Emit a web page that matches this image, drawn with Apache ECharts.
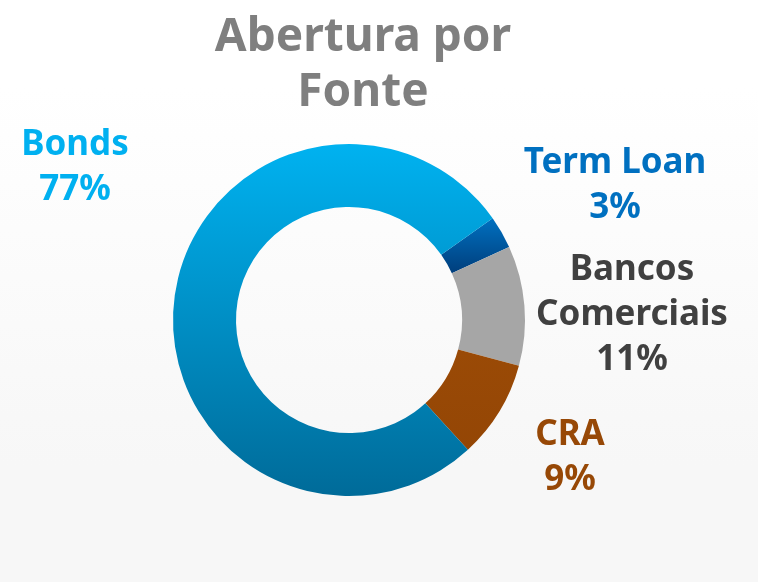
<!DOCTYPE html>
<html>
<head>
<meta charset="utf-8">
<script src="https://cdn.jsdelivr.net/npm/echarts@6/dist/echarts.min.js"></script>
<style>
  html, body { margin: 0; padding: 0; }
  #main { width: 758px; height: 582px; }
</style>
</head>
<body>
<div id="main"></div>
<script>
// data, clockwise from the top-right
var categories = ['Term Loan', 'Bancos Comerciais', 'CRA', 'Bonds']
var shares = [3, 11, 9, 77]
var labelNames = ['Term Loan', 'Bancos\nComerciais', 'CRA', 'Bonds']

// styles
var fillTop = ['#0070C0', '#A6A6A6', '#9A4A06', '#00B2F0']
var fillBottom = ['#003E7C', '#A6A6A6', '#944605', '#006B99']
var textColors = ['#0070C0', '#404040', '#974806', '#00B0F0']
var labelPos = [[615, 186], [632, 315], [570, 458], [75, 168]]

var chart = echarts.init(document.getElementById('main'))

var pieData = categories.map(function (name, i) {
    return {
        name: name,
        value: shares[i],
        itemStyle: {
            color: new echarts.graphic.LinearGradient(0, 0, 0, 1, [
                { offset: 0, color: fillTop[i] },
                { offset: 1, color: fillBottom[i] }
            ])
        },
        label: { color: textColors[i] }
    }
})

var option = {
    backgroundColor: new echarts.graphic.LinearGradient(0, 0, 0, 1, [
        { offset: 0.15, color: '#FFFFFF' },
        { offset: 0.8, color: '#F7F7F7' },
        { offset: 1, color: '#F7F7F7' }
    ]),
    title: {
        text: 'Abertura por\nFonte',
        left: 358,
        top: 5,
        textAlign: 'center',
        textStyle: {
            fontFamily: 'Noto Sans',
            fontWeight: 'bold',
            fontSize: 46,
            lineHeight: 55,
            color: '#7F7F7F'
        }
    },
    series: [{
        type: 'pie',
        center: [349, 320],
        radius: [113, 176],
        startAngle: 35.3,
        clockwise: true,
        silent: true,
        animation: false,
        data: pieData,
        itemStyle: { borderWidth: 0 },
        label: {
            show: true,
            position: 'outside',
            alignTo: 'none',
            overflow: 'none',
            fontFamily: 'Noto Sans',
            fontWeight: 'bold',
            fontSize: 35,
            lineHeight: 45,
            align: 'center',
            formatter: function (p) {
                return labelNames[p.dataIndex] + '\n' + p.value + '%'
            }
        },
        labelLine: { show: false },
        labelLayout: function (p) {
            var pos = labelPos[p.dataIndex]
            return {
                x: pos[0],
                y: pos[1],
                align: 'center',
                verticalAlign: 'middle',
                hideOverlap: false
            }
        }
    }]
}

chart.setOption(option)
</script>
</body>
</html>
